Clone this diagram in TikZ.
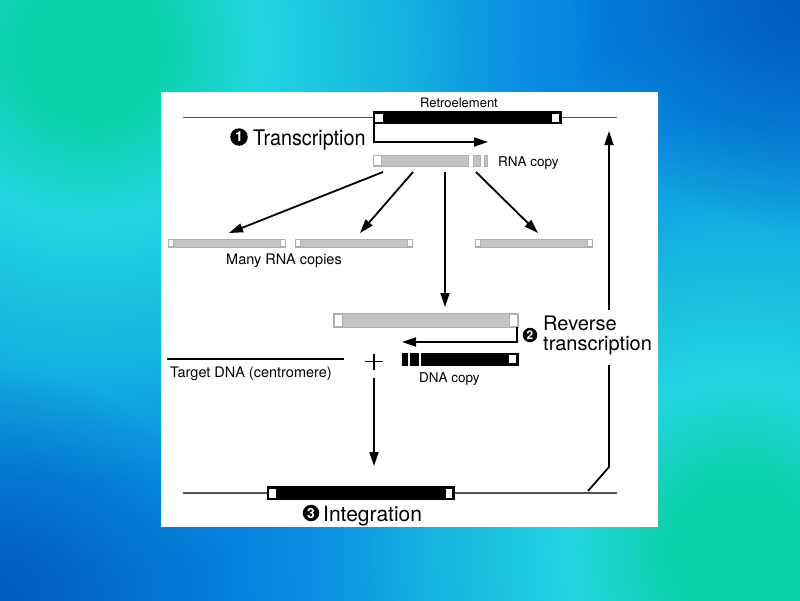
\documentclass[tikz,border=0pt]{standalone}
\usepackage{fontspec}
\setmainfont{TeX Gyre Heros}
\newfontfamily\condfont[FakeStretch=0.92]{TeX Gyre Heros}
\usetikzlibrary{arrows.meta,fadings}
\definecolor{bgdark}{RGB}{0,88,185}
\definecolor{bgblue}{RGB}{6,128,222}
\definecolor{bgblue2}{RGB}{10,142,226}
\definecolor{bgmid}{RGB}{22,182,224}
\definecolor{bgcyan}{RGB}{34,212,224}
\definecolor{bggreen}{RGB}{10,210,168}
\definecolor{rnagray}{RGB}{196,196,196}
\definecolor{rnaedge}{RGB}{175,175,175}
\definecolor{linegray}{RGB}{85,85,85}
\pgfdeclareradialshading{glowshade}{\pgfpointorigin}{color(0bp)=(bggreen); color(2.9bp)=(bggreen); color(7.1bp)=(bgcyan); color(12.5bp)=(bgmid); color(17.9bp)=(bgblue2); color(21.7bp)=(bgblue); color(25bp)=(bgblue); color(50bp)=(bgblue)}
\tikzfading[name=softglow, inner color=transparent!0, outer color=transparent!100]
\begin{document}
\begin{tikzpicture}[x=1pt,y=-1pt,
  genome/.style={draw=linegray, line width=1.6pt},
  dnabar/.style={fill=black, draw=black, line width=0.8pt},
  rnabar/.style={fill=rnagray, draw=rnaedge, line width=0.6pt},
  ltrdna/.style={fill=white, draw=black, line width=0.7pt},
  ltrrna/.style={fill=white, draw=rnaedge, line width=0.6pt},
  conn/.style={draw=black, line width=1.8pt, -{Triangle[length=14pt,width=9pt]}},
  plainconn/.style={draw=black, line width=1.8pt},
  stepnum/.style={circle, fill=black, text=white, inner sep=0pt, font=\bfseries\fontsize{14}{14}\selectfont},
  bigtext/.style={font=\fontsize{20}{22}\selectfont, inner sep=0pt},
  smalltext/.style={font=\fontsize{13.5}{15}\selectfont, inner sep=0pt}
]
\useasboundingbox (0,0) rectangle (800,600);
% background
\begin{scope}
\clip (-3,-3) rectangle (803,603);
\fill[bgblue] (-3,-3) rectangle (803,603);
\shade[shading=glowshade] (740,550) circle (600);
\begin{scope}
\clip (-3,-3) -- (648.3,-3) -- (181.9,603) -- (-3,603) -- cycle;
\shade[shading=glowshade] (90,50) circle (600);
\end{scope}
\fill[bgdark, path fading=softglow, opacity=0.9] (800,0) circle (230);
\fill[bgdark, path fading=softglow, opacity=0.9] (0,600) circle (230);
\end{scope}
% panel
\fill[white] (161,92) rectangle (658,527);

% top genome with retroelement
\draw[genome] (183,117.5) -- (373,117.5);
\draw[genome] (561,117.5) -- (617,117.5);
\filldraw[dnabar] (373,111.5) rectangle (561,123.5);
\filldraw[ltrdna] (374.5,113) rectangle (383,122);
\filldraw[ltrdna] (551,113) rectangle (559.5,122);
\node[font=\fontsize{13}{14}\selectfont, inner sep=0pt, anchor=base] (retro) at (459,107) {Retroelement};

% transcription
\coordinate (tstart) at (374,123.5);
\coordinate (tcorner) at (374,142);
\coordinate (tend) at (488,142);
\draw[conn] (tstart) -- (tcorner) -- (tend);
\node[stepnum, minimum size=17.5pt] (n1) at (239,137) {1};
\node[bigtext, anchor=base west, font=\condfont\fontsize{21.5}{23}\selectfont] (transcr) at (253,145) {Transcription};

% RNA copy
\filldraw[rnabar] (373,155) rectangle (468,166);
\filldraw[ltrrna] (373.5,155.5) rectangle (381.5,165.5);
\filldraw[rnabar] (473,155) rectangle (480,166);
\filldraw[rnabar] (484,155) rectangle (487,166);
\node[smalltext, anchor=base west] (rnacopy) at (498,166) {RNA copy};

% arrows to many copies
\coordinate (a1s) at (383,172); \coordinate (a1e) at (229,233);
\coordinate (a2s) at (413,172); \coordinate (a2e) at (360,233);
\coordinate (a3s) at (445,172); \coordinate (a3e) at (445,307);
\coordinate (a4s) at (476,172); \coordinate (a4e) at (538,233);
\draw[conn] (a1s) -- (a1e);
\draw[conn] (a2s) -- (a2e);
\draw[conn] (a3s) -- (a3e);
\draw[conn] (a4s) -- (a4e);

% many RNA copies
\foreach \xa/\xb in {168/285, 295/412, 475/592}{
  \filldraw[rnabar] (\xa,239) rectangle (\xb,247);
  \filldraw[ltrrna] (\xa,239.5) rectangle (\xa+5,246.5);
  \filldraw[ltrrna] (\xb-5,239.5) rectangle (\xb,246.5);
}
\node[font=\fontsize{14.5}{16}\selectfont, inner sep=0pt, anchor=base west] (many) at (226,264) {Many RNA copies};

% template RNA
\filldraw[rnabar] (333,313) rectangle (518,327);
\filldraw[ltrrna] (334,314) rectangle (342,326);
\filldraw[ltrrna] (509,314) rectangle (517,326);

% reverse transcription arrow
\coordinate (rstart) at (517,327);
\coordinate (rcorner) at (517,342);
\coordinate (rend) at (402,342);
\draw[conn] (rstart) -- (rcorner) -- (rend);
\node[stepnum, minimum size=14.5pt, font=\bfseries\fontsize{12}{12}\selectfont] (n2) at (530,335) {2};
\node[bigtext, anchor=base west] (rev1) at (543,330) {Reverse};
\node[bigtext, anchor=base west] (rev2) at (543,350) {transcription};

% DNA copy
\filldraw[dnabar] (402,353) rectangle (407,365);
\filldraw[dnabar] (410,353) rectangle (418,365);
\filldraw[dnabar] (421,353) rectangle (518,365);
\filldraw[ltrdna] (508,354.5) rectangle (516.5,363.5);
\node[smalltext, anchor=base west] (dnacopy) at (419,382) {DNA copy};

% target DNA
\draw[draw=black, line width=1.6pt] (167,359) -- (344,359);
\node[font=\fontsize{14.5}{16}\selectfont, inner sep=0pt, anchor=base west] (target) at (170,377) {Target DNA (centromere)};
\coordinate (plusc) at (374,361.5);
\draw[line width=1.3pt] ([xshift=-9pt]plusc) -- ([xshift=9pt]plusc);
\draw[line width=1.3pt] ([yshift=-8pt]plusc) -- ([yshift=8pt]plusc);

% integration arrow
\coordinate (istart) at (374,378);
\coordinate (iend) at (374,466);
\draw[conn] (istart) -- (iend);

% bottom genome
\draw[genome] (183,493) -- (267,493);
\draw[genome] (454,493) -- (617,493);
\filldraw[dnabar] (267,486.5) rectangle (454,499.5);
\filldraw[ltrdna] (268.5,488) rectangle (276,498);
\filldraw[ltrdna] (445,488) rectangle (452.5,498);
\node[stepnum, minimum size=16.5pt] (n3) at (311,513) {3};
\node[bigtext, anchor=base west, font=\fontsize{21}{23}\selectfont] (integ) at (323,521) {Integration};

% return path
\coordinate (b0) at (588,491);
\coordinate (b1) at (609,467);
\coordinate (b2) at (609,365);
\coordinate (b3) at (609,310);
\coordinate (b4) at (609,131);
\draw[plainconn] (b0) -- (b1) -- (b2);
\draw[conn] (b3) -- (b4);
\end{tikzpicture}
\end{document}
